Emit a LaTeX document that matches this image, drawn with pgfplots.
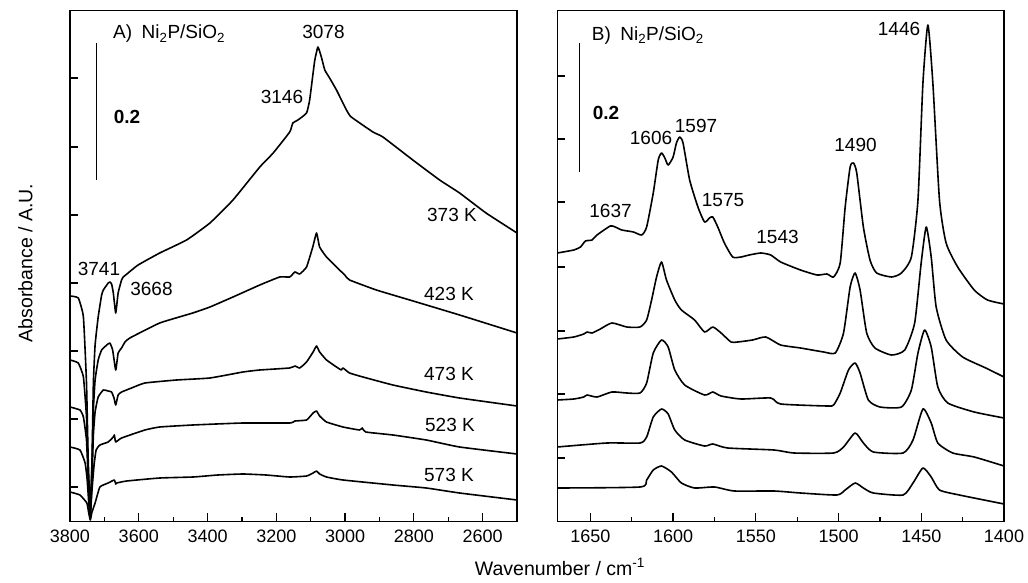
\documentclass[border=0pt]{standalone}
\usepackage{fontspec}
\setmainfont{Liberation Sans}
\usepackage{pgfplots}
\pgfplotsset{compat=1.18}
\begin{document}
\begin{tikzpicture}[font=\fontsize{19bp}{22bp}\selectfont]
\useasboundingbox (0,0) rectangle (1028bp,583bp);
\pgfplotsset{
  spec/.style={black, line width=1.6bp, line join=round, no marks, smooth, tension=0.25},
  specs/.style={black, line width=1.6bp, line join=round, no marks, smooth, tension=0.35},
  panel/.style={
    anchor=south west, scale only axis, height=511bp,
    x dir=reverse, tick align=inside, xtick pos=bottom, ytick pos=left,
    major tick length=8bp, minor tick length=4bp,
    yticklabels={,,,,,,,,},
    axis line style={line width=1.5bp},
    every tick/.style={black, line width=1.3bp},
    /pgf/number format/assume math mode=true,
    /pgf/number format/1000 sep={},
    scaled ticks=false,
    xticklabel style={yshift=-5bp, font=\fontsize{18bp}{21bp}\selectfont},
  }
}
% ---------------- Panel A ----------------
\begin{axis}[panel, at={(70bp,61.5bp)}, width=447bp,
  xmin=2500, xmax=3800, ymin=-1.5, ymax=509.5,
  xtick={2600,2800,3000,3200,3400,3600,3800},
  minor xtick={2700,2900,3100,3300,3500,3700},
  ytick={33,101,169,237,305,373,442}]
% 373 K
\addplot[spec] coordinates {(3800,224)(3776,222)(3761,203)(3752,137)(3747,60)(3741,10)(3736,60)(3732,137)(3727,175)(3718,203)(3708,225)(3703,230)(3693,235)(3689,237)(3684,238)(3679,236)(3674,227)(3667,207)(3660,227)(3650,240)(3645,243)(3631,247)(3602,255)(3539,267)(3461,280)(3393,297)(3326,320)(3248,353)(3209,367)(3161,388)(3152,397)(3137,400)(3112,407)(3103,420)(3093,447)(3088,460)(3079,473)(3069,463)(3059,450)(3045,442)(3025,430)(2996,410)(2982,403)(2919,388)(2890,383)(2803,360)(2725,340)(2667,327)(2590,307)(2500,287)};
% 423 K
\addplot[spec] coordinates {(3800,160)(3776,157)(3761,143)(3752,103)(3747,50)(3741,8)(3736,55)(3732,110)(3727,140)(3718,160)(3708,170)(3693,175)(3684,177)(3676,170)(3667,150)(3660,167)(3650,172)(3640,178)(3626,182)(3539,197)(3443,207)(3393,213)(3326,223)(3248,235)(3190,243)(3161,243)(3146,248)(3132,246)(3112,253)(3094,273)(3083,287)(3074,273)(3054,263)(3016,250)(3001,245)(2987,240)(2909,230)(2812,220)(2667,205)(2500,187)};
% 473 K
\addplot[spec] coordinates {(3800,113)(3771,110)(3761,103)(3752,80)(3747,40)(3741,6)(3736,40)(3732,85)(3727,108)(3718,123)(3703,130)(3689,129)(3679,128)(3672,122)(3667,115)(3660,125)(3650,128)(3621,132)(3582,137)(3490,140)(3393,142)(3297,148)(3248,150)(3161,152)(3146,154)(3132,152)(3112,158)(3093,168)(3083,174)(3074,168)(3054,160)(3025,153)(3011,150)(3006,152)(2987,147)(2948,143)(2861,135)(2764,128)(2667,122)(2500,114)};
% 523 K
\addplot[spec] coordinates {(3800,73)(3771,70)(3756,57)(3750,40)(3745,15)(3741,4)(3736,30)(3730,55)(3724,70)(3713,75)(3689,78)(3674,83)(3671,85)(3667,78)(3650,82)(3582,90)(3539,93)(3443,95)(3297,97)(3161,97)(3146,99)(3112,100)(3093,107)(3083,109)(3074,104)(3054,98)(3006,93)(2958,90)(2950,92)(2940,88)(2861,85)(2764,80)(2667,73)(2500,66)};
% 573 K
\addplot[spec] coordinates {(3800,28)(3771,25)(3751,17)(3746,8)(3741,0)(3736,8)(3727,17)(3713,33)(3689,37)(3671,40)(3667,36)(3664,37)(3635,39)(3539,42)(3442,43)(3370,45)(3297,46)(3230,45)(3161,43)(3112,44)(3093,47)(3083,49)(3074,46)(3054,43)(3006,40)(2861,35)(2764,32)(2667,27)(2500,20)};
\end{axis}
% ---------------- Panel B ----------------
\begin{axis}[panel, at={(557.3bp,61.5bp)}, width=446.7bp,
  xmin=1400, xmax=1670, ymin=0.5, ymax=511.5,
  xtick={1400,1450,1500,1550,1600,1650},
  minor xtick={1425,1475,1525,1575,1625},
  ytick={64,128,191,255,320,383,446}]
% 373 K
\addplot[specs] coordinates {(1670,269)(1660,272)(1656,275)(1653,281)(1649,282)(1646,287)(1638,296)(1635,295)(1631,292)(1624,290)(1619,287)(1616,295)(1612,329)(1609,362)(1607,369)(1605,364)(1603,357)(1600,365)(1598,379)(1596,385)(1594,379)(1590,342)(1585,315)(1581,300)(1578,304)(1576,305)(1573,295)(1569,279)(1564,265)(1559,265)(1554,267)(1547,269)(1541,267)(1535,260)(1523,252)(1513,247)(1507,248)(1503,245)(1499,259)(1496,315)(1493,355)(1491,359)(1489,349)(1485,295)(1481,262)(1477,249)(1468,245)(1462,249)(1456,265)(1452,322)(1449,439)(1446,497)(1443,439)(1439,322)(1435,279)(1428,255)(1418,232)(1410,222)(1400,218)};
% 423 K
\addplot[specs] coordinates {(1670,183)(1660,185)(1654,188)(1652,190)(1649,189)(1644,193)(1637,199)(1628,195)(1620,195)(1616,202)(1613,222)(1610,245)(1607,260)(1604,242)(1599,222)(1595,212)(1587,202)(1581,190)(1576,195)(1571,189)(1565,180)(1561,180)(1552,182)(1544,185)(1535,177)(1523,174)(1509,170)(1502,169)(1497,189)(1493,235)(1490,249)(1487,232)(1483,189)(1478,174)(1468,167)(1460,172)(1454,199)(1450,260)(1447,295)(1444,265)(1441,215)(1435,182)(1425,165)(1411,154)(1400,145)};
% 473 K
\addplot[specs] coordinates {(1670,122)(1660,123)(1654,125)(1652,127)(1646,125)(1637,130)(1628,129)(1620,129)(1616,139)(1612,169)(1607,182)(1603,175)(1599,152)(1593,137)(1581,127)(1576,130)(1571,126)(1559,123)(1541,124)(1535,118)(1507,116)(1503,117)(1499,129)(1494,152)(1490,159)(1487,149)(1482,122)(1475,115)(1462,115)(1456,132)(1452,169)(1448,192)(1444,175)(1440,135)(1434,119)(1418,110)(1400,104)};
% 523 K
\addplot[specs] coordinates {(1670,75)(1640,79)(1620,79)(1616,85)(1612,105)(1607,113)(1603,108)(1599,92)(1593,82)(1581,76)(1576,78)(1567,74)(1539,72)(1527,69)(1503,69)(1497,75)(1490,89)(1485,79)(1479,70)(1461,69)(1455,82)(1449,113)(1444,99)(1440,79)(1431,69)(1418,65)(1400,56)};
% 573 K
\addplot[specs] coordinates {(1670,34)(1620,35)(1616,42)(1612,52)(1607,56)(1601,50)(1595,39)(1587,34)(1575,35)(1563,31)(1539,31)(1523,29)(1501,27)(1496,32)(1490,39)(1485,34)(1479,29)(1461,27)(1455,39)(1449,54)(1444,45)(1439,32)(1427,27)(1400,18)};
\end{axis}
% ---------------- scale bars ----------------
\draw[line width=1.5bp] (96.7bp,540bp) -- (96.7bp,403bp);
\draw[line width=1.5bp] (579.3bp,540bp) -- (579.3bp,410.5bp);
\node[anchor=base] at (127bp,459.5bp) {\textbf{0.2}};
\node[anchor=base] at (606bp,463.5bp) {\textbf{0.2}};
% ---------------- panel titles ----------------
\node[anchor=base west, inner sep=0pt] at (113bp,544bp) {A)\,\,\,Ni\textsubscript{2}P/SiO\textsubscript{2}};
\node[anchor=base west, inner sep=0pt] at (591.7bp,542.5bp) {B)\,\,\,Ni\textsubscript{2}P/SiO\textsubscript{2}};
% ---------------- annotations A ----------------
\node[anchor=base] at (323.5bp,544bp) {3078};
\node[anchor=base] at (282bp,479.5bp) {3146};
\node[anchor=base] at (99bp,307bp) {3741};
\node[anchor=base] at (151.5bp,287bp) {3668};
\node[anchor=base] at (452bp,361bp) {373 K};
\node[anchor=base] at (449bp,282bp) {423 K};
\node[anchor=base] at (449bp,202.5bp) {473 K};
\node[anchor=base] at (450bp,151bp) {523 K};
\node[anchor=base] at (449bp,101bp) {573 K};
% ---------------- annotations B ----------------
\node[anchor=base] at (899bp,547.5bp) {1446};
\node[anchor=base] at (651bp,438bp) {1606};
\node[anchor=base] at (696bp,450bp) {1597};
\node[anchor=base] at (855.5bp,431.5bp) {1490};
\node[anchor=base] at (723bp,376.5bp) {1575};
\node[anchor=base] at (610.5bp,365bp) {1637};
\node[anchor=base] at (777.5bp,339bp) {1543};
% ---------------- axis labels ----------------
\node[anchor=base, font=\fontsize{19.5bp}{22bp}\selectfont] at (560bp,8bp) {Wavenumber / cm\textsuperscript{-1}};
\node[rotate=90, anchor=center, font=\fontsize{19.5bp}{22bp}\selectfont] at (25.5bp,320bp) {Absorbance / A.U.};
\end{tikzpicture}
\end{document}
